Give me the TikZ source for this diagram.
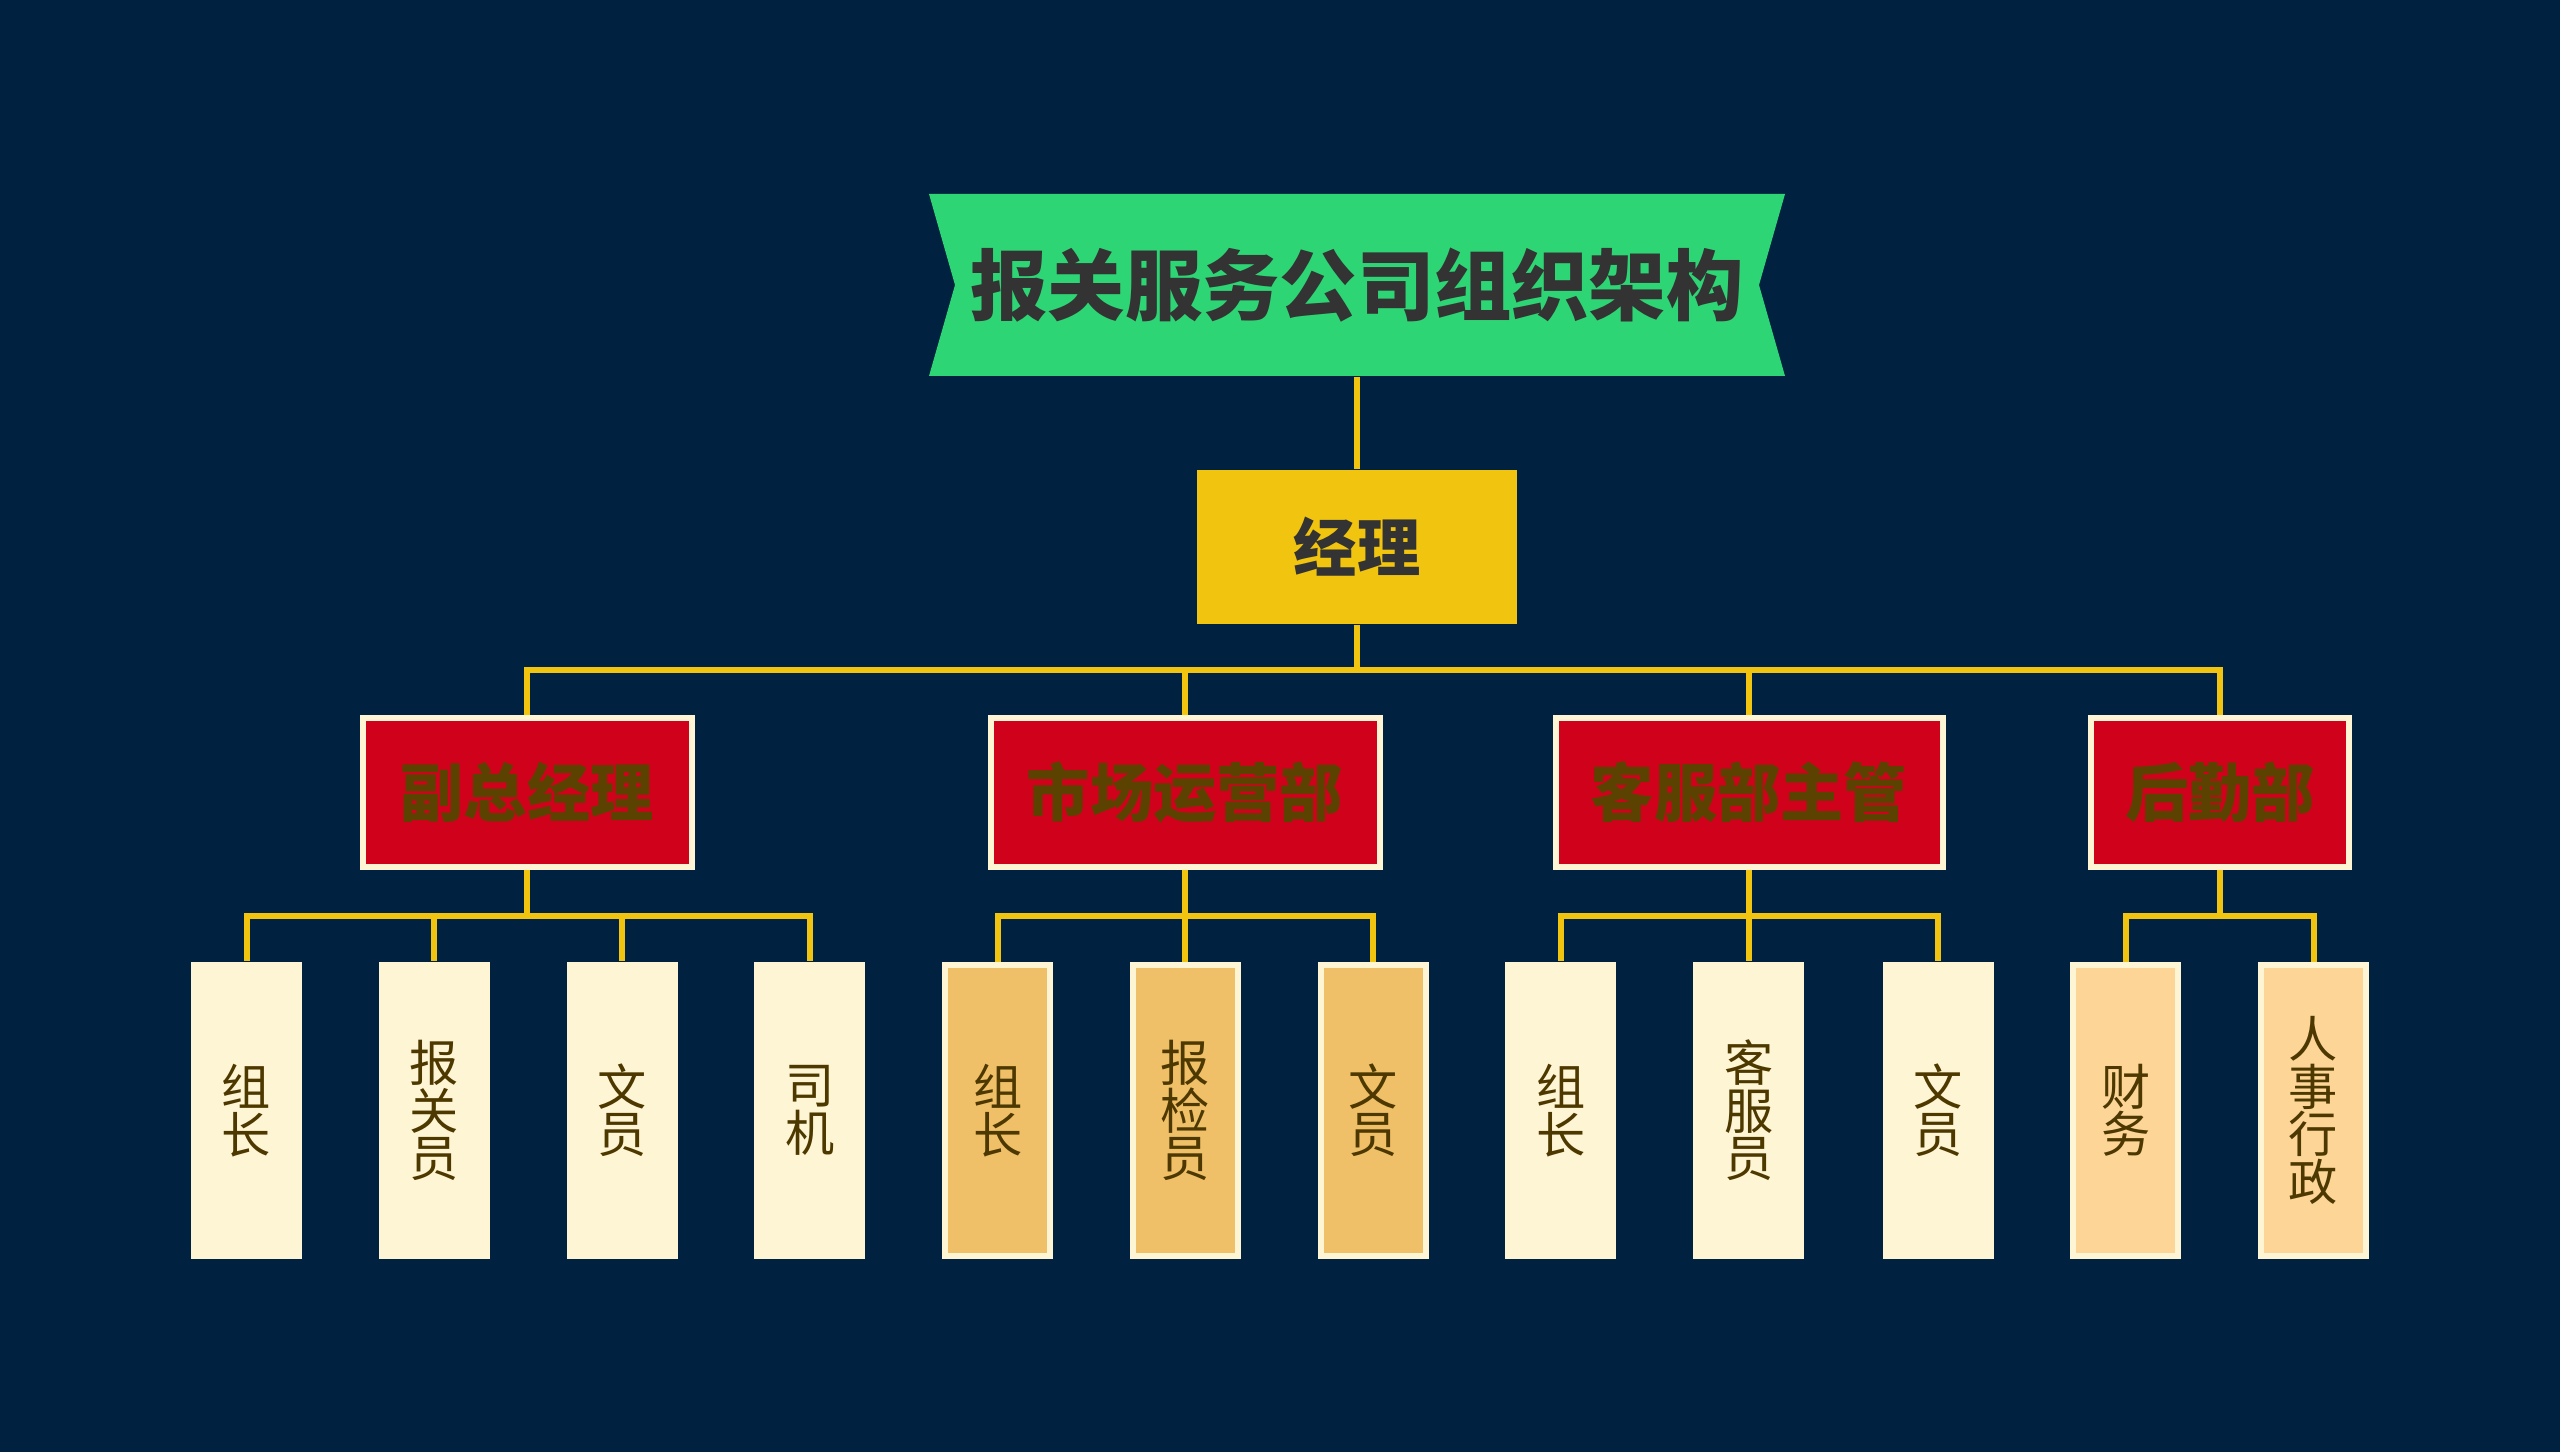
\documentclass[tikz,border=0pt]{standalone}
\usepackage{fontspec}
\newfontfamily\cjk{Noto Sans CJK SC}
\usepackage{tikz}
\usetikzlibrary{positioning, calc}
\definecolor{mynavy}{RGB}{1,33,64}
\definecolor{mygreen}{RGB}{46,213,117}
\definecolor{mygold}{RGB}{241,196,15}
\definecolor{myred}{RGB}{208,2,27}
\definecolor{mycream}{RGB}{254,245,212}
\definecolor{myorange}{RGB}{240,192,104}
\definecolor{mypeach}{RGB}{253,213,151}
\definecolor{mydark}{RGB}{51,51,51}
\definecolor{myolive}{RGB}{91,66,0}
\definecolor{mybrown}{RGB}{77,57,0}
\tikzset{
  mgrbox/.style={rectangle, fill=mygold, minimum width=3.2cm, minimum height=1.54cm,
    font=\cjk\bfseries\fontsize{18}{20}\selectfont, text=mydark},
  deptbox/.style={rectangle, draw=mycream, fill=myred, line width=0.06cm,
    minimum height=1.49cm, font=\cjk\bfseries\fontsize{18}{20}\selectfont, text=myolive},
  leaf/.style={rectangle, fill=mycream, minimum width=1.11cm, minimum height=2.97cm,
    align=center, font=\cjk\fontsize{14}{13.5}\selectfont, text=mybrown},
  leafo/.style={leaf, draw=mycream, line width=0.06cm, fill=myorange,
    minimum width=1.05cm, minimum height=2.91cm},
  leafp/.style={leafo, fill=mypeach},
  link/.style={line width=0.06cm, color=mygold}
}
\begin{document}
\begin{tikzpicture}
  \fill[mynavy] (0,0) rectangle (25.6,14.52);
  \useasboundingbox (0,0) rectangle (25.6,14.52);

  % banner
  \fill[mygreen] (9.29,12.58) -- (17.85,12.58) -- (17.59,11.67) -- (17.85,10.76)
    -- (9.29,10.76) -- (9.55,11.67) -- cycle;
  \node[minimum width=8.56cm, minimum height=1.82cm, inner sep=0pt,
    font=\cjk\bfseries\fontsize{22}{24}\selectfont, text=mydark] (title) at (13.57,11.67) {报关服务公司组织架构};

  \node[mgrbox] (mgr) at (13.57,9.05) {经理};

  \node[deptbox, minimum width=3.29cm] (d1) at (5.27,6.595) {副总经理};
  \node[deptbox, minimum width=3.89cm] (d2) at (11.85,6.595) {市场运营部};
  \node[deptbox, minimum width=3.87cm] (d3) at (17.49,6.595) {客服部主管};
  \node[deptbox, minimum width=2.58cm] (d4) at (22.20,6.595) {后勤部};

  \node[leaf] (l11) at (2.465,3.415) {组\\长};
  \node[leaf] (l12) at (4.343,3.415) {报\\关\\员};
  \node[leaf] (l13) at (6.221,3.415) {文\\员};
  \node[leaf] (l14) at (8.098,3.415) {司\\机};

  \node[leafo] (l21) at (9.976,3.415) {组\\长};
  \node[leafo] (l22) at (11.853,3.415) {报\\检\\员};
  \node[leafo] (l23) at (13.731,3.415) {文\\员};

  \node[leaf] (l31) at (15.609,3.415) {组\\长};
  \node[leaf] (l32) at (17.486,3.415) {客\\服\\员};
  \node[leaf] (l33) at (19.380,3.415) {文\\员};

  \node[leafp] (l41) at (21.258,3.415) {财\\务};
  \node[leafp] (l42) at (23.135,3.415) {人\\事\\行\\政};

  % connectors
  \draw[link] (title.south) -- (mgr.north);
  \coordinate (bus) at ($(mgr.south)+(0,-0.45)$);
  \draw[link] (mgr.south) -- (bus);
  \draw[link] (bus) -| (d1.north);
  \draw[link] (bus) -| (d2.north);
  \draw[link] (bus) -| (d3.north);
  \draw[link] (bus) -| (d4.north);

  \coordinate (b1) at ($(d1.south)+(0,-0.46)$);
  \draw[link] (d1.south) -- (b1);
  \draw[link] (b1) -| (l11.north);
  \draw[link] (b1) -| (l12.north);
  \draw[link] (b1) -| (l13.north);
  \draw[link] (b1) -| (l14.north);

  \coordinate (b2) at ($(d2.south)+(0,-0.46)$);
  \draw[link] (d2.south) -- (b2);
  \draw[link] (b2) -| (l21.north);
  \draw[link] (b2) -| (l22.north);
  \draw[link] (b2) -| (l23.north);

  \coordinate (b3) at ($(d3.south)+(0,-0.46)$);
  \draw[link] (d3.south) -- (b3);
  \draw[link] (b3) -| (l31.north);
  \draw[link] (b3) -| (l32.north);
  \draw[link] (b3) -| (l33.north);

  \coordinate (b4) at ($(d4.south)+(0,-0.46)$);
  \draw[link] (d4.south) -- (b4);
  \draw[link] (b4) -| (l41.north);
  \draw[link] (b4) -| (l42.north);
\end{tikzpicture}
\end{document}
